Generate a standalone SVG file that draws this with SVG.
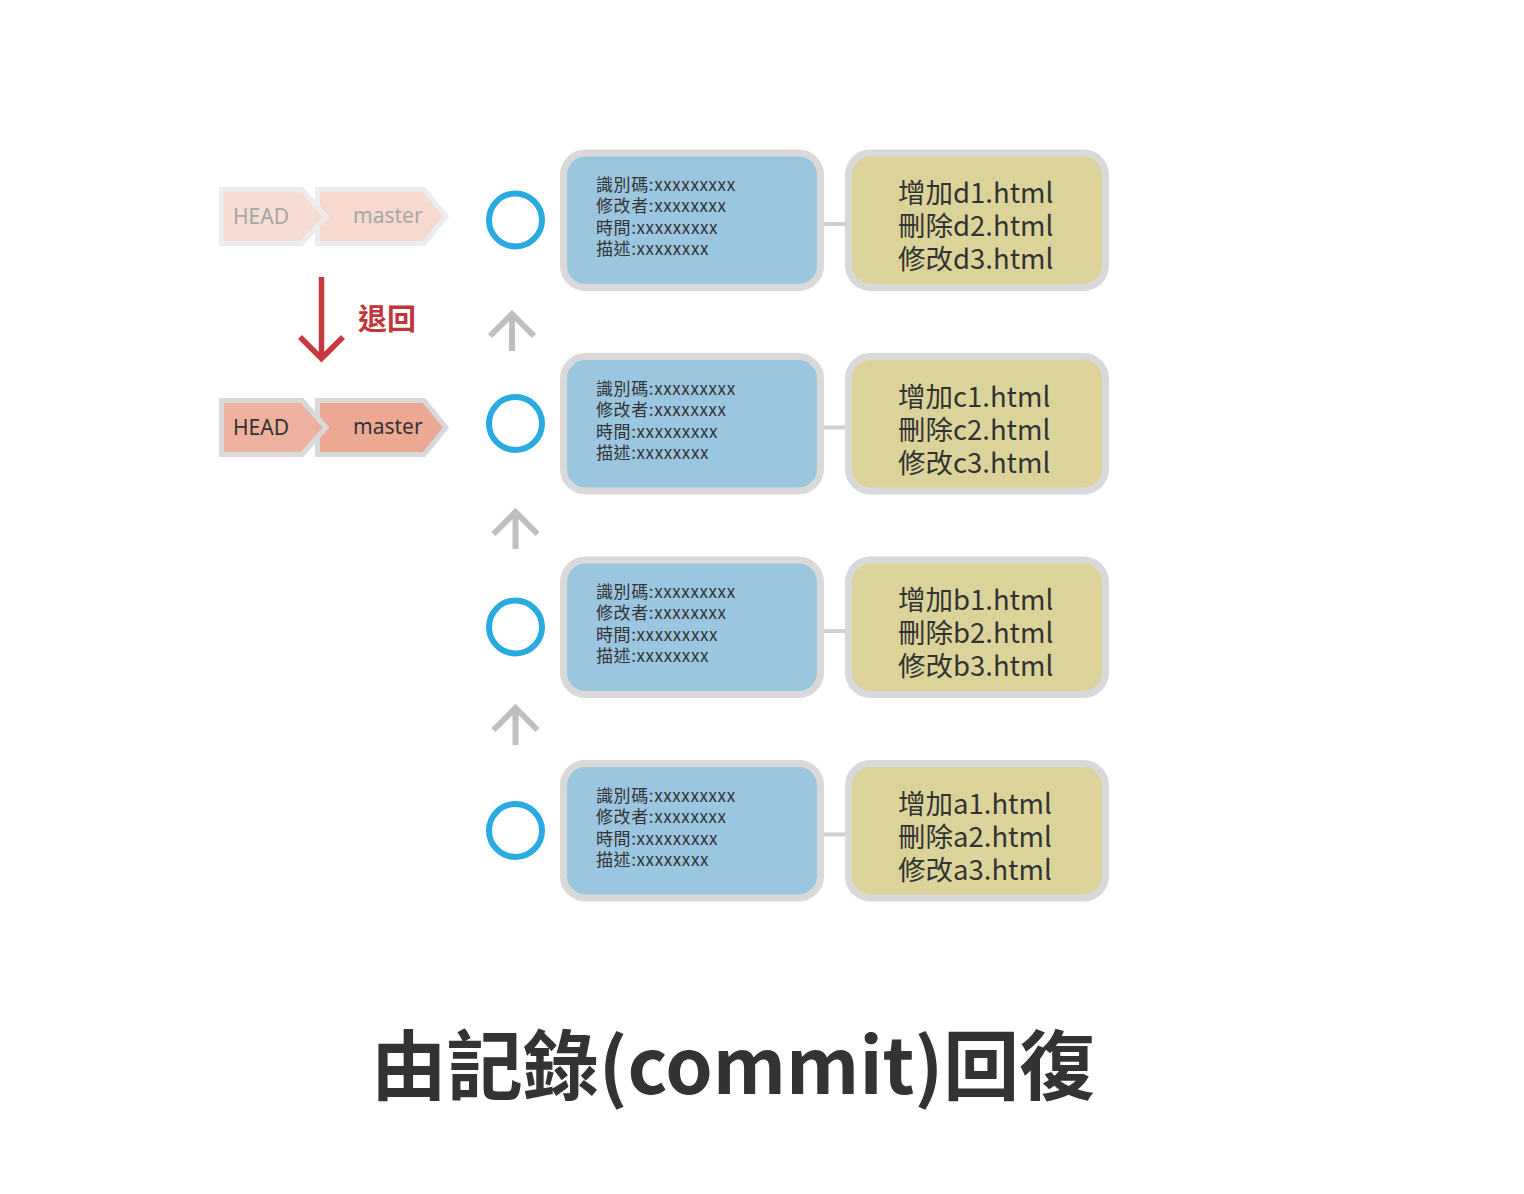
<svg xmlns="http://www.w3.org/2000/svg" width="1524" height="1194" viewBox="0 0 1524 1194">
<style>
.box{stroke:#d9d9d9;stroke-width:7}
.info{fill:#9bc6df}
.chg{fill:#dcd39b}
.t17{font-family:"Noto Sans CJK TC","Noto Sans",sans-serif;font-size:17px;fill:#333;letter-spacing:0.6px}
.t28{font-family:"Noto Sans CJK TC","Noto Sans",sans-serif;font-size:27.5px;fill:#333}
.ring{fill:none;stroke:#29abe2;stroke-width:6}
.link{stroke:#d0d0d0;stroke-width:4}
.up{fill:none;stroke:#bfbfbf;stroke-width:6}
.tag{font-family:"Noto Sans","Noto Sans CJK TC",sans-serif;font-size:21px}
</style>
<rect width="1524" height="1194" fill="#fff"/>
<g id="connectors">
<line class="link" x1="824" y1="224" x2="846" y2="224"/>
<line class="link" x1="824" y1="427.5" x2="846" y2="427.5"/>
<line class="link" x1="824" y1="631" x2="846" y2="631"/>
<line class="link" x1="824" y1="834.5" x2="846" y2="834.5"/>
<path class="up" d="M512 351V314M490 336L512 314L534 336"/>
<path class="up" d="M515.5 549V512M493.5 534L515.5 512L537.5 534"/>
<path class="up" d="M515.5 745V708M493.5 730L515.5 708L537.5 730"/>
<path d="M321.5 277V357M300 337L321.5 358.5L343 337" fill="none" stroke="#c9373f" stroke-width="5.5"/>
</g>
<g id="commit-d">
<circle class="ring" cx="515.5" cy="220" r="26.5"/>
<rect class="box info" x="563.5" y="153" width="257" height="134.5" rx="22"/>
<text class="t17"><tspan x="596" y="191">識別碼:xxxxxxxxx</tspan><tspan x="596" y="212">修改者:xxxxxxxx</tspan><tspan x="596" y="234">時間:xxxxxxxxx</tspan><tspan x="596" y="255">描述:xxxxxxxx</tspan></text>
<rect class="box chg" x="848.5" y="153" width="257" height="134.5" rx="22"/>
<text class="t28"><tspan x="898" y="203">增加d1.html</tspan><tspan x="898" y="236">刪除d2.html</tspan><tspan x="898" y="269">修改d3.html</tspan></text>
</g>
<g id="commit-c" transform="translate(0,203.5)">
<circle class="ring" cx="515.5" cy="220" r="26.5"/>
<rect class="box info" x="563.5" y="153" width="257" height="134.5" rx="22"/>
<text class="t17"><tspan x="596" y="191">識別碼:xxxxxxxxx</tspan><tspan x="596" y="212">修改者:xxxxxxxx</tspan><tspan x="596" y="234">時間:xxxxxxxxx</tspan><tspan x="596" y="255">描述:xxxxxxxx</tspan></text>
<rect class="box chg" x="848.5" y="153" width="257" height="134.5" rx="22"/>
<text class="t28"><tspan x="898" y="203">增加c1.html</tspan><tspan x="898" y="236">刪除c2.html</tspan><tspan x="898" y="269">修改c3.html</tspan></text>
</g>
<g id="commit-b" transform="translate(0,407)">
<circle class="ring" cx="515.5" cy="220" r="26.5"/>
<rect class="box info" x="563.5" y="153" width="257" height="134.5" rx="22"/>
<text class="t17"><tspan x="596" y="191">識別碼:xxxxxxxxx</tspan><tspan x="596" y="212">修改者:xxxxxxxx</tspan><tspan x="596" y="234">時間:xxxxxxxxx</tspan><tspan x="596" y="255">描述:xxxxxxxx</tspan></text>
<rect class="box chg" x="848.5" y="153" width="257" height="134.5" rx="22"/>
<text class="t28"><tspan x="898" y="203">增加b1.html</tspan><tspan x="898" y="236">刪除b2.html</tspan><tspan x="898" y="269">修改b3.html</tspan></text>
</g>
<g id="commit-a" transform="translate(0,610.5)">
<circle class="ring" cx="515.5" cy="220" r="26.5"/>
<rect class="box info" x="563.5" y="153" width="257" height="134.5" rx="22"/>
<text class="t17"><tspan x="596" y="191">識別碼:xxxxxxxxx</tspan><tspan x="596" y="212">修改者:xxxxxxxx</tspan><tspan x="596" y="234">時間:xxxxxxxxx</tspan><tspan x="596" y="255">描述:xxxxxxxx</tspan></text>
<rect class="box chg" x="848.5" y="153" width="257" height="134.5" rx="22"/>
<text class="t28"><tspan x="898" y="203">增加a1.html</tspan><tspan x="898" y="236">刪除a2.html</tspan><tspan x="898" y="269">修改a3.html</tspan></text>
</g>
<g id="old-pointer">
<polygon points="317.5,189.5 424,189.5 446,216.5 424,243.5 317.5,243.5" fill="#f7d9cf" stroke="#ececec" stroke-width="5"/>
<polygon points="221.5,189.5 302,189.5 326,216.5 302,243.5 221.5,243.5" fill="#f7d9cf" stroke="#ececec" stroke-width="5" fill-opacity="0.9"/>
<text class="tag" x="233" y="224" fill="#a6a6a6">HEAD</text>
<text class="tag" x="353" y="223" fill="#a6a6a6" font-size="20">master</text>
</g>
<g id="new-pointer">
<polygon points="317.5,400.5 424,400.5 446,427.5 424,454.5 317.5,454.5" fill="#eca893" stroke="#d9d9d9" stroke-width="5"/>
<polygon points="221.5,400.5 302,400.5 326,427.5 302,454.5 221.5,454.5" fill="#eca893" stroke="#d9d9d9" stroke-width="5" fill-opacity="0.9"/>
<text class="tag" x="233" y="435" fill="#333">HEAD</text>
<text class="tag" x="353" y="434" fill="#333" font-size="20">master</text>
</g>
<g id="label-reset">
<text x="358" y="330" font-family="Noto Sans CJK TC,sans-serif" font-size="29" font-weight="bold" fill="#c0363c">退回</text>
</g>
<g id="title">
<text x="733" y="1094" text-anchor="middle" font-family="Noto Sans CJK TC,sans-serif" font-size="76" font-weight="bold" fill="#333">由記錄(commit)回復</text>
</g>
</svg>
